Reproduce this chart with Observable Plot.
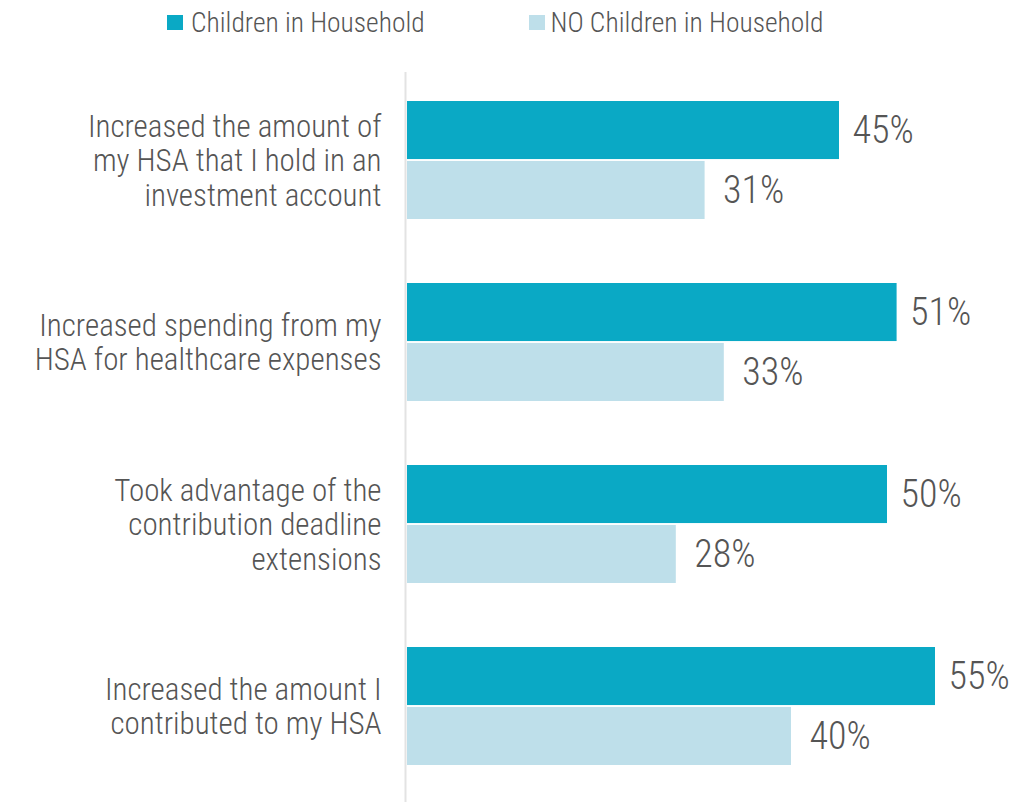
<!DOCTYPE html>
<html>
<head>
<meta charset="utf-8">
<script src="https://cdn.jsdelivr.net/npm/d3@7"></script>
<script src="https://cdn.jsdelivr.net/npm/@observablehq/plot@0.6"></script>
<style>
  body { margin: 0; background: #fff; font-family: "Roboto Condensed", "Liberation Sans Narrow", "DejaVu Sans Condensed", sans-serif; font-stretch: condensed; }
  #legend { height: 44px; position: relative; color: #555; font-size: 27.5px; font-weight: 300; }
  .item { position: absolute; top: 6px; display: flex; align-items: center; }
  .sw { width: 15.5px; height: 15.5px; display: inline-block; }
  #chart svg { display: block; }
</style>
</head>
<body>
<div id="legend"></div>
<div id="chart"></div>
<script>
const categories = [
  "Increased the amount of\nmy HSA that I hold in an\ninvestment account",
  "Increased spending from my\nHSA for healthcare expenses",
  "Took advantage of the\ncontribution deadline\nextensions",
  "Increased the amount I\ncontributed to my HSA"
];
const seriesNames = ["Children in Household", "NO Children in Household"];
const seriesColors = ["#0AA9C5", "#BEDFEA"];
const childrenValues = [45, 51, 50, 55];
const noChildrenValues = [31, 33, 28, 40];

const children = categories.map((c, i) => ({category: c, value: childrenValues[i]}));
const noChildren = categories.map((c, i) => ({category: c, value: noChildrenValues[i]}));

// legend
const legend = document.getElementById("legend");
const legendLeft = [167, 529];
const legendGap = [8.5, 6];
seriesNames.forEach((name, i) => {
  const d = document.createElement("div");
  d.className = "item";
  d.style.left = legendLeft[i] + "px";
  d.style.gap = legendGap[i] + "px";
  d.innerHTML = `<span class="sw" style="background:${seriesColors[i]}"></span><span>${name}</span>`;
  legend.appendChild(d);
});

const font = "'Roboto Condensed', 'Liberation Sans Narrow', 'DejaVu Sans Condensed', sans-serif";

const chart = Plot.plot({
  width: 1030,
  height: 758,
  marginTop: 28,
  marginBottom: 0,
  marginLeft: 407,
  marginRight: 47,
  style: {fontFamily: font, color: "#555", background: "#fff", fontWeight: 300},
  x: {domain: [0, 60], axis: null},
  y: {domain: categories, paddingInner: 0.349, paddingOuter: 0.172, align: 0.444, label: null},
  marks: [
    Plot.barX(children, {x: "value", y: "category", fill: seriesColors[0], insetBottom: 59.95}),
    Plot.barX(noChildren, {x: "value", y: "category", fill: seriesColors[1], insetTop: 59.95}),
    Plot.ruleX([0], {stroke: "#e3e3e3", strokeWidth: 2, dx: -2}),
    Plot.text(children, {x: "value", y: "category", text: d => d.value + "%", dx: 13, dy: -30, textAnchor: "start", fontSize: 38, fill: "#555"}),
    Plot.text(noChildren, {x: "value", y: "category", text: d => d.value + "%", dx: 18, dy: 30, textAnchor: "start", fontSize: 38, fill: "#555"}),
    Plot.axisY({tickSize: 0, tickPadding: 26, fontSize: 31, lineHeight: 1.1, fill: "#555", label: null})
  ]
});
document.getElementById("chart").appendChild(chart);
</script>
</body>
</html>
